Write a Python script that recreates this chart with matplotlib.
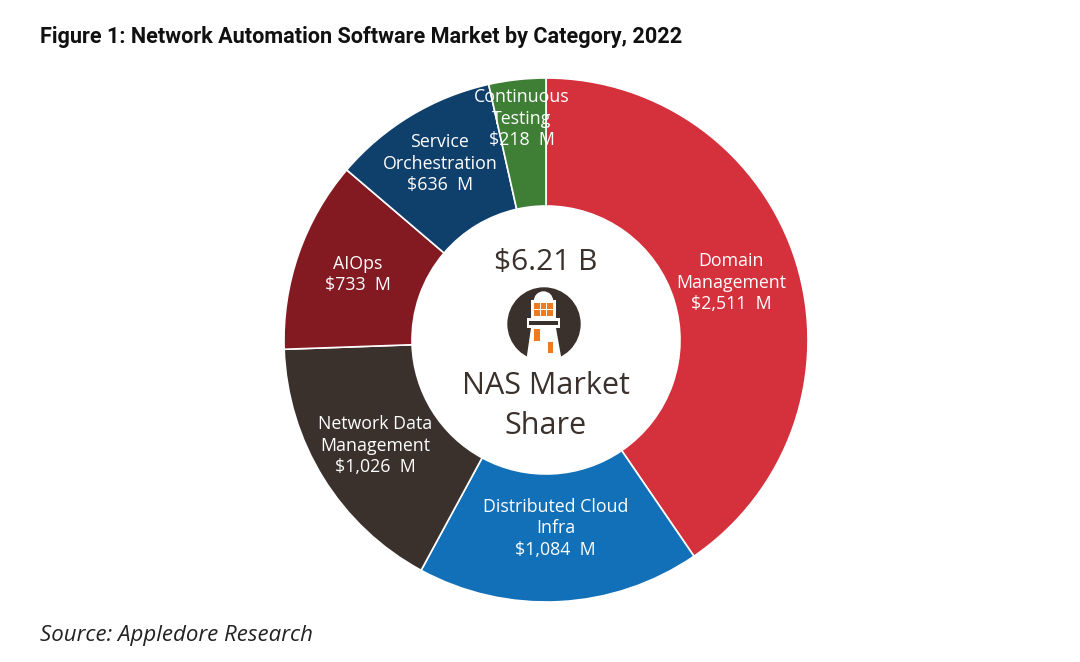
import matplotlib
matplotlib.use("Agg")
import matplotlib.pyplot as plt
import matplotlib.patches as mpatches
import numpy as np

categories = ["Domain\nManagement", "Distributed Cloud\nInfra", "Network Data\nManagement",
              "AIOps", "Service\nOrchestration", "Continuous\nTesting"]
values = [2511, 1084, 1026, 733, 636, 218]
value_labels = ["\\$2,511  M", "\\$1,084  M", "\\$1,026  M", "\\$733  M", "\\$636  M", "\\$218  M"]
total_label = "\\$6.21 B"
center_label = "NAS Market\nShare"
title = "Figure 1: Network Automation Software Market by Category, 2022"
source = "Source: Appledore Research"

colors = ["#D4313D", "#1170B8", "#3A312C", "#831A22", "#0F3F6B", "#3F7E35"]
label_r = [0.74, 0.72, 0.765, 0.76, 0.785, 0.85]

plt.rcParams['font.family'] = ['Open Sans', 'DejaVu Sans']

fig = plt.figure(figsize=(10.8, 6.62), dpi=100)
W, H = 1080, 662
cx, cy, R = 546, 340, 262
ax = fig.add_axes([(cx - R) / W, (H - cy - R) / H, 2 * R / W, 2 * R / H])

wedges, _ = ax.pie(values, colors=colors, startangle=90, counterclock=False, radius=1.0,
                   wedgeprops=dict(width=1 - 134 / 262, edgecolor="white", linewidth=1.2))
ax.set_xlim(-1, 1)
ax.set_ylim(-1, 1)
ax.set_aspect("equal")
ax.axis("off")

for w, cat, vl, r in zip(wedges, categories, value_labels, label_r):
    ang = np.deg2rad((w.theta1 + w.theta2) / 2)
    ax.text(r * np.cos(ang), r * np.sin(ang), cat + "\n" + vl, ha="center", va="center",
            color="white", fontsize=12.8, linespacing=1.25)

def P(px, py):
    return ((px - cx) / R, (cy - py) / R)

def rect(x0, ytop, w, h, color, z):
    ax.add_patch(mpatches.Rectangle(P(x0, ytop + h), w / R, h / R, color=color, zorder=z,
                                    linewidth=0))

# center texts
ax.text(*P(546, 262), total_label, ha="center", va="center", fontsize=21.5, color="#3A312C",
        fontweight="medium")
ax.text(*P(546, 406), center_label, ha="center", va="center", fontsize=22, color="#3A312C",
        linespacing=1.42, fontweight="medium")

# lighthouse icon
dark = "#3A312C"
orange = "#F07A1E"
ax.add_patch(mpatches.Circle(P(544, 324), 36 / R, color=dark, zorder=3))
tower = [P(531, 328), P(556, 328), P(562, 362), P(526, 362)]
ax.add_patch(mpatches.Polygon(tower, closed=True, color="white", zorder=4, linewidth=0))
ax.add_patch(mpatches.Wedge(P(543.5, 301), 9 / R, 0, 180, color="white", zorder=4))
rect(531, 300, 25, 19, "white", 4)
for xx in (534, 540.5, 547):
    for yy in (302.5, 310):
        rect(xx, yy, 5.5, 6, orange, 5)
rect(527, 318, 33, 10, "white", 4)
rect(529, 321, 29, 3.5, dark, 5)
rect(534, 329, 6, 12, orange, 5)
rect(548, 342, 5, 11, orange, 5)

fig.text(40 / W, 1 - 37 / H, title, ha="left", va="center", fontsize=15.6, fontweight="bold",
         color="#111111", family=["Roboto", "DejaVu Sans"])
fig.text(40 / W, 1 - 636 / H, source, ha="left", va="center", fontsize=16, style="italic",
         color="#222222")

fig.savefig("out.png", dpi=100, facecolor="white")
